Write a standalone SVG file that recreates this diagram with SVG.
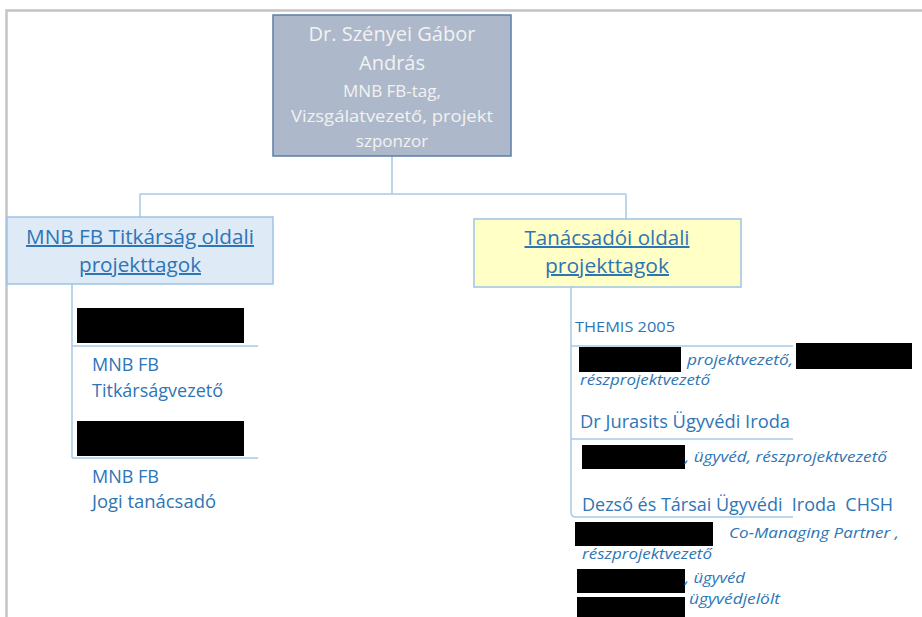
<svg xmlns="http://www.w3.org/2000/svg" width="922" height="617" viewBox="0 0 922 617">
<style>
text{font-family:"Open Sans","Noto Sans","Liberation Sans",sans-serif}
.t{fill:#F2F2F2;text-anchor:middle}
.b{fill:#2E75B6}
.u{text-decoration:underline;text-anchor:middle;font-size:20px}
.i{font-style:italic;font-size:15px}
.ln{stroke:#A9C9E8;stroke-width:1.5;fill:none}
.red{fill:#000}
.pre{white-space:pre}
</style>
<rect width="922" height="617" fill="#fff"/>
<path d="M6.5 617V10.5H922" fill="none" stroke="#C4C4C4" stroke-width="2.5"/>
<g id="connectors">
<path class="ln" d="M392 156V194M140 194H626M140 194V217M626 194V219"/>
<path class="ln" d="M72 284V458M72 346H258M72 458H258"/>
<path class="ln" d="M571 287V512Q571 517 576 517H793M571 346H793M571 439H793"/>
</g>
<g id="top">
<rect x="273" y="15" width="238" height="141" fill="#ADB9CA" stroke="#5B7FA8" stroke-width="1.5"/>
<text class="t" x="392" y="41" font-size="20" textLength="167" lengthAdjust="spacingAndGlyphs">Dr. Szényei Gábor</text>
<text class="t" x="392" y="70" font-size="20">András</text>
<text class="t" x="392" y="97" font-size="17">MNB FB-tag,</text>
<text class="t" x="392" y="122" font-size="17" textLength="202" lengthAdjust="spacingAndGlyphs">Vizsgálatvezető, projekt</text>
<text class="t" x="392" y="147" font-size="17">szponzor</text>
</g>
<g id="left">
<rect x="7" y="217" width="266" height="67" fill="#DEEAF6" stroke="#9DC3E6" stroke-width="1.5"/>
<text class="b u" x="140" y="244" textLength="228" lengthAdjust="spacingAndGlyphs">MNB FB Titkárság oldali</text>
<text class="b u" x="140" y="272" textLength="122" lengthAdjust="spacingAndGlyphs">projekttagok</text>
</g>
<g id="right">
<rect x="474" y="219" width="267" height="68" fill="#FFFFC6" stroke="#9DC3E6" stroke-width="1.5"/>
<text class="b u" x="607" y="245" textLength="165" lengthAdjust="spacingAndGlyphs">Tanácsadói oldali</text>
<text class="b u" x="607" y="273" textLength="124" lengthAdjust="spacingAndGlyphs">projekttagok</text>
</g>
<g id="left-member-1">
<rect class="red" x="77" y="308" width="167" height="35"/>
<text class="b" x="92" y="371" font-size="18">MNB FB</text>
<text class="b" x="92" y="397" font-size="18" textLength="131" lengthAdjust="spacingAndGlyphs">Titkárságvezető</text>
</g>
<g id="left-member-2">
<rect class="red" x="77" y="421" width="167" height="35"/>
<text class="b" x="92" y="483" font-size="18">MNB FB</text>
<text class="b" x="92" y="508" font-size="18" textLength="124" lengthAdjust="spacingAndGlyphs">Jogi tanácsadó</text>
</g>
<g id="themis">
<text class="b" x="575" y="332" font-size="14" textLength="100" lengthAdjust="spacingAndGlyphs">THEMIS 2005</text>
<rect class="red" x="579" y="347" width="102" height="25"/>
<text class="b i" x="687" y="365" textLength="106" lengthAdjust="spacingAndGlyphs">projektvezető,</text>
<rect class="red" x="796" y="343" width="116" height="26"/>
<text class="b i" x="580" y="385" textLength="130" lengthAdjust="spacingAndGlyphs">részprojektvezető</text>
</g>
<g id="jurasits">
<text class="b" x="580" y="428" font-size="18" textLength="210" lengthAdjust="spacingAndGlyphs">Dr Jurasits Ügyvédi Iroda</text>
<rect class="red" x="582" y="445" width="103" height="24"/>
<text class="b i" x="685" y="462" textLength="202" lengthAdjust="spacingAndGlyphs">, ügyvéd, részprojektvezető</text>
</g>
<g id="dezso">
<text class="b pre" x="582" y="511" font-size="18" textLength="311" lengthAdjust="spacingAndGlyphs">Dezső és Társai Ügyvédi  Iroda  CHSH</text>
<rect class="red" x="575" y="522" width="138" height="24"/>
<text class="b i" x="729" y="538" textLength="170" lengthAdjust="spacingAndGlyphs">Co-Managing Partner ,</text>
<text class="b i" x="582" y="559" textLength="130" lengthAdjust="spacingAndGlyphs">részprojektvezető</text>
<rect class="red" x="577" y="569" width="108" height="24"/>
<text class="b i" x="685" y="583" textLength="60" lengthAdjust="spacingAndGlyphs">, ügyvéd</text>
<rect class="red" x="577" y="597" width="108" height="20"/>
<text class="b i" x="689" y="604" textLength="91" lengthAdjust="spacingAndGlyphs">ügyvédjelölt</text>
</g>
</svg>
